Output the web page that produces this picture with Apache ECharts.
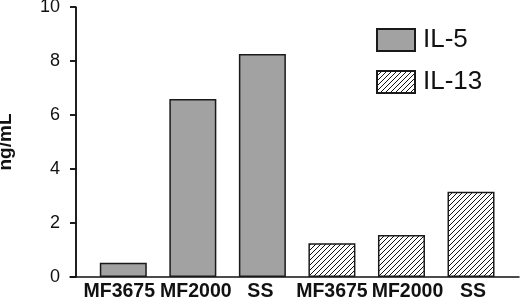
<!DOCTYPE html>
<html><head><meta charset="utf-8">
<script src="https://cdn.jsdelivr.net/npm/echarts@6/dist/echarts.min.js"></script>
<style>html,body{margin:0;padding:0;background:#fff}#c{width:520px;height:302px}</style>
</head><body><div id="c"></div>
<script>
var categories = ['MF3675', 'MF2000', 'SS', 'MF3675', 'MF2000', 'SS'];
var il5Values = [0.53, 6.59, 8.26];
var il13Values = [1.25, 1.56, 3.16];
var yTicks = [0, 2, 4, 6, 8, 10];

// layout constants: x scale extent (category units) and label nudges (px)
var xMin = -0.0863;
var xLead = 0.68;
var xMax = 6.37;
var labelShift = [-4, 3, -2, 0, 6, 2];

var hatch = document.createElement('canvas');
hatch.width = 5; hatch.height = 5;
var hc = hatch.getContext('2d');
hc.fillStyle = '#fff'; hc.fillRect(0, 0, 5, 5);
hc.strokeStyle = '#111'; hc.lineWidth = 1;
hc.beginPath();
hc.moveTo(-1, 6); hc.lineTo(6, -1);
hc.moveTo(-1, 1); hc.lineTo(1, -1);
hc.moveTo(4, 6); hc.lineTo(6, 4);
hc.stroke();

var il5Data = il5Values.map(function (v, i) { return [i + xLead, v]; });
var il13Data = il13Values.map(function (v, i) { return [i + 3 + xLead, v]; });
var labelPos = categories.map(function (c, i) { return i + xLead; });

var font = 'Liberation Sans, Arial, sans-serif';
var rich = {};
labelShift.forEach(function (s, i) {
  rich['l' + i] = {
    fontFamily: font, fontWeight: 'bold', fontSize: 19.5, color: '#111',
    padding: s >= 0 ? [0, 0, 0, 2 * s] : [0, -2 * s, 0, 0]
  };
});

var chart = echarts.init(document.getElementById('c'), null, {renderer: 'canvas'});
chart.setOption({
  animation: false,
  backgroundColor: '#fff',
  grid: {left: 70, right: 1, top: 7, bottom: 25, containLabel: false, outerBoundsMode: 'none'},
  legend: {
    orient: 'vertical', left: 376, top: 27, padding: 0,
    itemWidth: 38, itemHeight: 22, itemGap: 16,
    icon: 'rect',
    textStyle: {fontFamily: font, fontSize: 26, color: '#111', padding: [0, 0, 0, 3]},
    data: ['IL-5', 'IL-13']
  },
  xAxis: {
    type: 'value', min: xMin, max: xMax,
    splitLine: {show: false},
    axisLine: {show: true, lineStyle: {color: '#111', width: 1.5}},
    axisTick: {show: false},
    axisLabel: {
      customValues: labelPos,
      hideOverlap: false, showMinLabel: true, showMaxLabel: true,
      formatter: function (v) { var i = Math.round(v - xLead); return '{l' + i + '|' + categories[i] + '}'; },
      rich: rich,
      fontFamily: font, fontWeight: 'bold', fontSize: 19.5, color: '#111', margin: 5
    }
  },
  yAxis: {
    type: 'value', min: 0, max: 10, interval: 2,
    name: 'ng/mL', nameLocation: 'middle', nameRotate: 90, nameGap: 55,
    nameTextStyle: {fontFamily: font, fontWeight: 'bold', fontSize: 19, color: '#111'},
    splitLine: {show: false},
    axisLine: {show: true, onZero: true, lineStyle: {color: '#111', width: 1.5}},
    axisTick: {show: true, length: 6, lineStyle: {color: '#111', width: 1.5}},
    axisLabel: {
      fontFamily: font, fontSize: 18, color: '#111', margin: 10,
      formatter: function (v) { return yTicks.indexOf(v) >= 0 ? String(v) : ''; }
    }
  },
  series: [
    {
      name: 'IL-5', type: 'bar', data: il5Data, barWidth: 47, barGap: '-100%',
      itemStyle: {color: '#a2a2a2', borderColor: '#1a1a1a', borderWidth: 1.5}
    },
    {
      name: 'IL-13', type: 'bar', data: il13Data, barWidth: 47, barGap: '-100%',
      itemStyle: {color: {image: hatch, repeat: 'repeat'}, borderColor: '#1a1a1a', borderWidth: 1.5}
    }
  ]
});

// y-axis line and ticks, placed through the chart's own scales
try {
  var p0 = chart.convertToPixel({gridIndex: 0}, [0, yTicks[0]]);
  var p1 = chart.convertToPixel({gridIndex: 0}, [0, yTicks[yTicks.length - 1]]);
  var lineStyle = {stroke: '#111', lineWidth: 1.5};
  var els = [{type: 'line', z: 100, shape: {x1: p0[0], y1: p0[1], x2: p1[0], y2: p1[1]}, style: lineStyle}];
  yTicks.forEach(function (t) {
    var p = chart.convertToPixel({gridIndex: 0}, [0, t]);
    els.push({type: 'line', z: 100, shape: {x1: p[0] - 6, y1: p[1], x2: p[0], y2: p[1]}, style: lineStyle});
  });
  chart.setOption({graphic: {elements: els}});
} catch (e) {}
</script></body></html>
